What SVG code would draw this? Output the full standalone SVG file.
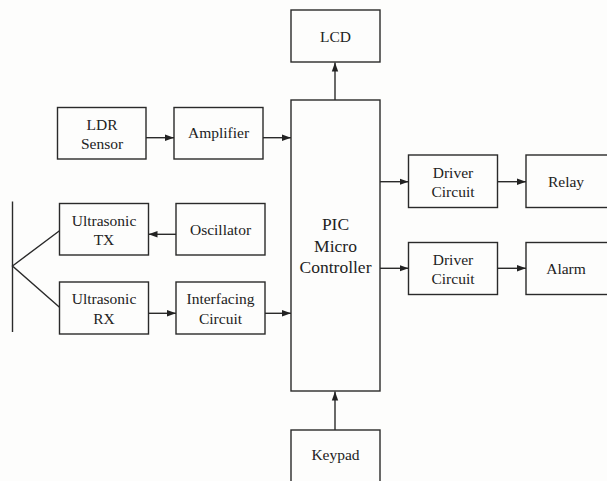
<svg xmlns="http://www.w3.org/2000/svg" width="607" height="481" viewBox="0 0 607 481">
<defs>
<marker id="ah" markerWidth="10" markerHeight="8" refX="9" refY="4" orient="auto" markerUnits="userSpaceOnUse">
<path d="M0,0.8 L9,4 L0,7.2 Z" fill="#222"/>
</marker>
</defs>
<rect width="607" height="481" fill="#fdfdfc"/>
<g fill="none" stroke="#2a2a2a" stroke-width="1.4">
<g id="lcd"><rect x="291" y="10" width="89" height="52"/><text x="335.5" y="41.5" font-family="'Liberation Serif', serif" font-size="15.5" fill="#222" stroke="none" text-anchor="middle">LCD</text></g>
<g id="pic"><rect x="291" y="100" width="89" height="291"/><text x="335.5" y="230" font-family="'Liberation Serif', serif" font-size="17.5" fill="#222" stroke="none" text-anchor="middle">PIC</text><text x="335.5" y="251.5" font-family="'Liberation Serif', serif" font-size="17.5" fill="#222" stroke="none" text-anchor="middle">Micro</text><text x="335.5" y="273" font-family="'Liberation Serif', serif" font-size="17.5" fill="#222" stroke="none" text-anchor="middle">Controller</text></g>
<g id="ldr"><rect x="57.5" y="107.5" width="88.5" height="51.5"/><text x="102" y="130" font-family="'Liberation Serif', serif" font-size="15.5" fill="#222" stroke="none" text-anchor="middle">LDR</text><text x="102" y="148.5" font-family="'Liberation Serif', serif" font-size="15.5" fill="#222" stroke="none" text-anchor="middle">Sensor</text></g>
<g id="amp"><rect x="174" y="107.5" width="89" height="51.5"/><text x="218.5" y="138" font-family="'Liberation Serif', serif" font-size="15.5" fill="#222" stroke="none" text-anchor="middle">Amplifier</text></g>
<g id="tx"><rect x="59.5" y="203.5" width="89" height="51.5"/><text x="104" y="225.5" font-family="'Liberation Serif', serif" font-size="15.5" fill="#222" stroke="none" text-anchor="middle">Ultrasonic</text><text x="104" y="245" font-family="'Liberation Serif', serif" font-size="15.5" fill="#222" stroke="none" text-anchor="middle">TX</text></g>
<g id="osc"><rect x="176" y="203.5" width="89" height="51.5"/><text x="220.5" y="235" font-family="'Liberation Serif', serif" font-size="15.5" fill="#222" stroke="none" text-anchor="middle">Oscillator</text></g>
<g id="rx"><rect x="59.5" y="282" width="89" height="52"/><text x="104" y="304" font-family="'Liberation Serif', serif" font-size="15.5" fill="#222" stroke="none" text-anchor="middle">Ultrasonic</text><text x="104" y="323.5" font-family="'Liberation Serif', serif" font-size="15.5" fill="#222" stroke="none" text-anchor="middle">RX</text></g>
<g id="ifc"><rect x="176" y="282" width="89" height="52"/><text x="220.5" y="303.5" font-family="'Liberation Serif', serif" font-size="15.5" fill="#222" stroke="none" text-anchor="middle">Interfacing</text><text x="220.5" y="323.5" font-family="'Liberation Serif', serif" font-size="15.5" fill="#222" stroke="none" text-anchor="middle">Circuit</text></g>
<g id="drv1"><rect x="408.5" y="155" width="89" height="52.5"/><text x="453" y="177.5" font-family="'Liberation Serif', serif" font-size="15.5" fill="#222" stroke="none" text-anchor="middle">Driver</text><text x="453" y="196.5" font-family="'Liberation Serif', serif" font-size="15.5" fill="#222" stroke="none" text-anchor="middle">Circuit</text></g>
<g id="relay"><rect x="526" y="155" width="84" height="52.5"/><text x="566" y="186.5" font-family="'Liberation Serif', serif" font-size="15.5" fill="#222" stroke="none" text-anchor="middle">Relay</text></g>
<g id="drv2"><rect x="408.5" y="242.5" width="89" height="52"/><text x="453" y="264.5" font-family="'Liberation Serif', serif" font-size="15.5" fill="#222" stroke="none" text-anchor="middle">Driver</text><text x="453" y="283.5" font-family="'Liberation Serif', serif" font-size="15.5" fill="#222" stroke="none" text-anchor="middle">Circuit</text></g>
<g id="alarm"><rect x="526" y="242.5" width="84" height="52"/><text x="566" y="273.5" font-family="'Liberation Serif', serif" font-size="15.5" fill="#222" stroke="none" text-anchor="middle">Alarm</text></g>
<g id="keypad"><rect x="291" y="430" width="89" height="60"/><text x="335.5" y="460" font-family="'Liberation Serif', serif" font-size="15.5" fill="#222" stroke="none" text-anchor="middle">Keypad</text></g>
</g>
<g id="connectors" fill="none" stroke="#2a2a2a" stroke-width="1.4">
<line x1="335" y1="100" x2="335" y2="62.5" marker-end="url(#ah)"/>
<line x1="146" y1="137.7" x2="174" y2="137.7" marker-end="url(#ah)"/>
<line x1="263" y1="137.7" x2="291" y2="137.7" marker-end="url(#ah)"/>
<line x1="176" y1="234.3" x2="148.5" y2="234.3" marker-end="url(#ah)"/>
<line x1="148.5" y1="313.3" x2="176" y2="313.3" marker-end="url(#ah)"/>
<line x1="265" y1="313.3" x2="291" y2="313.3" marker-end="url(#ah)"/>
<line x1="380" y1="181.7" x2="408.5" y2="181.7" marker-end="url(#ah)"/>
<line x1="497.5" y1="181.7" x2="526" y2="181.7" marker-end="url(#ah)"/>
<line x1="380" y1="268.3" x2="408.5" y2="268.3" marker-end="url(#ah)"/>
<line x1="497.5" y1="268.3" x2="526" y2="268.3" marker-end="url(#ah)"/>
<line x1="335" y1="430" x2="335" y2="391.5" marker-end="url(#ah)"/>
<line x1="12.5" y1="201.5" x2="12.5" y2="332"/>
<polyline points="59.5,230.7 12.5,266 59.5,307.3"/>
</g>
</svg>
